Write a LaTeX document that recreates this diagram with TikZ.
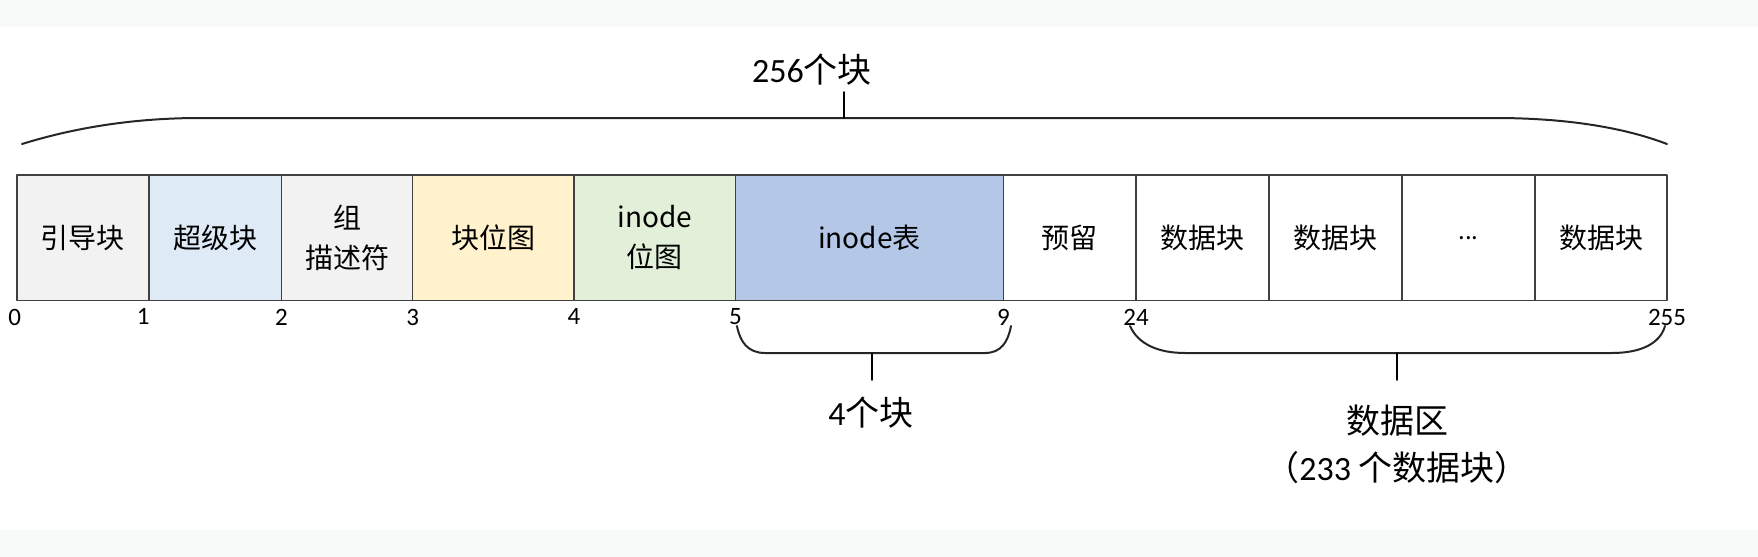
\documentclass[tikz,border=0pt]{standalone}
\usepackage{fontspec}
\setmainfont{Carlito}
\newfontfamily\cjk{Noto Sans CJK SC}
\usepackage{tikz}
\usetikzlibrary{positioning}

\definecolor{stripgray}{HTML}{F8F9F9}
\definecolor{cellline}{HTML}{404040}
\definecolor{bootgray}{HTML}{F2F2F2}
\definecolor{superblue}{HTML}{DEEBF7}
\definecolor{bmapyellow}{HTML}{FFF2CC}
\definecolor{imapgreen}{HTML}{E2F0D9}
\definecolor{itabblue}{HTML}{B4C7E7}

\begin{document}
\begin{tikzpicture}[line cap=round,line join=round,x=0.5pt,y=-0.5pt]
\useasboundingbox (0,0) rectangle (1758,557);
%\clip (0,0) rectangle (1758,557);
\tikzstyle{cell}=[draw=cellline, line width=0.7pt, minimum height=62.75pt, inner sep=0pt, outer sep=0pt, align=center, font=\cjk\fontsize{14}{20}\selectfont]
\tikzstyle{num}=[inner sep=0pt, font=\fontsize{12.5}{14}\selectfont]
\tikzstyle{bigtxt}=[inner sep=0pt, align=center, font=\fontsize{17}{24}\selectfont]
\tikzstyle{brace}=[line width=1pt, color=black!85]

% screenshot strips
\fill [stripgray] (0,0) rectangle (1758,27);
\fill [stripgray] (0,530) rectangle (1758,557);

% the blocks of one group
\node [cell, anchor=west, minimum width=66.15pt, fill=bootgray] (boot) at (16.8,237.75) {引导块};
\node [cell, right=0pt of boot, minimum width=66.15pt, fill=superblue] (super) {超级块};
\node [cell, right=0pt of super, minimum width=65.6pt, fill=bootgray] (gdt) {组\\描述符};
\node [cell, right=0pt of gdt, minimum width=80.7pt, fill=bmapyellow] (bmap) {块位图};
\node [cell, right=0pt of bmap, minimum width=80.75pt, fill=imapgreen] (imap) {inode\\位图};
\node [cell, right=0pt of imap, minimum width=134pt, fill=itabblue] (itab) {inode表};
\node [cell, right=0pt of itab, minimum width=66.25pt, fill=white] (resv) {预留};
\node [cell, right=0pt of resv, minimum width=66.5pt, fill=white] (dataA) {数据块};
\node [cell, right=0pt of dataA, minimum width=66.5pt, fill=white] (dataB) {数据块};
\node [cell, right=0pt of dataB, minimum width=66.5pt, fill=white] (dots) {\fontsize{12}{14}\selectfont ...};
\node [cell, right=0pt of dots, minimum width=66pt, fill=white] (dataN) {数据块};

% block numbers
\node [num, below=4pt of boot.south west, xshift=-1pt] (n0) {0};
\node [num, below=4pt of super.south west, xshift=-3pt] (n1) {1};
\node [num, below=4pt of gdt.south west] (n2) {2};
\node [num, below=4pt of bmap.south west] (n3) {3};
\node [num, below=4pt of imap.south west] (n4) {4};
\node [num, below=4pt of itab.south west] (n5) {5};
\node [num, below=4pt of resv.south west] (n9) {9};
\node [num, below=4pt of dataA.south west] (n24) {24};
\node [num, below=4pt of dataN.south east] (n255) {255};

% whole group
\coordinate (topL) at (22,144);
\coordinate (topR) at (1667,144);
\coordinate (topM) at (844,118);
\coordinate (topT) at (844,92);
\draw [brace] (topL) .. controls (80,126) and (140,118) .. (200,118) -- (1495,118) .. controls (1560,118) and (1620,126) .. (topR);
\draw [line width=0.8pt] (topM) -- (topT);
\node [bigtxt] (total) at (812,70) {256{\cjk 个块}};

% inode table
\coordinate (itL) at (737,326);
\coordinate (itR) at (1011,326);
\coordinate (itM) at (872,353);
\coordinate (itT) at (872,380);
\draw [brace] (itL) .. controls (740,342) and (748,353) .. (765,353) -- (985,353) .. controls (1001,353) and (1008,342) .. (itR);
\draw [line width=0.8pt] (itM) -- (itT);
\node [bigtxt] (four) at (871,413) {4{\cjk 个块}};

% data area
\coordinate (daL) at (1130,326);
\coordinate (daR) at (1665,326);
\coordinate (daM) at (1397,353);
\coordinate (daT) at (1397,380);
\draw [brace] (daL) .. controls (1138,344) and (1158,353) .. (1185,353) -- (1612,353) .. controls (1640,353) and (1660,344) .. (daR);
\draw [line width=0.8pt] (daM) -- (daT);
\node [bigtxt] (area) at (1397,421) {\cjk 数据区};
\node [bigtxt, below=7pt of area, font=\fontsize{17}{22}\selectfont] (count) {{\cjk （}233 {\cjk 个数据块）}};
\end{tikzpicture}
\end{document}
